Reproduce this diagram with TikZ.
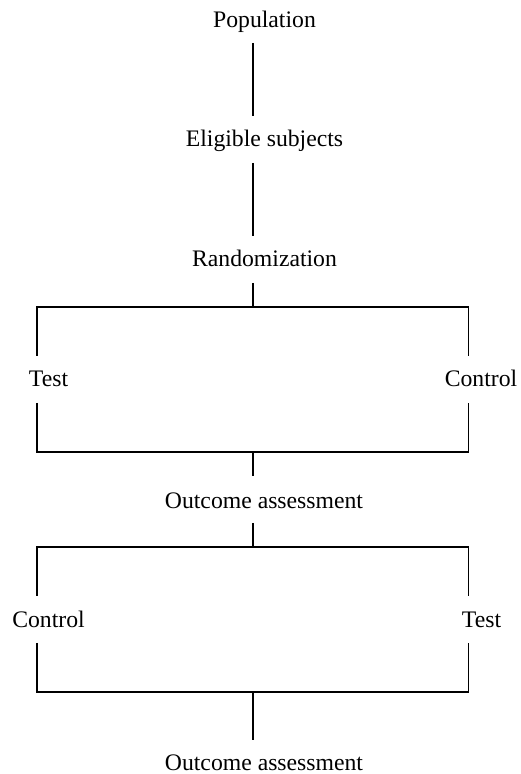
\documentclass[tikz,border=0pt]{standalone}
\usepackage{fontspec}
\setmainfont{Liberation Serif}
\begin{document}
\begin{tikzpicture}[x=1pt,y=1pt,
  lbl/.style={inner sep=0pt,anchor=base,font=\fontsize{23.7}{28}\selectfont},
  ln/.style={line width=1.7pt}]
\useasboundingbox (0,0) rectangle (521,774);
% labels
\node[lbl] (pop)   at (264.5,746) {Population};
\node[lbl] (elig)  at (264.5,627) {Eligible subjects};
\node[lbl] (rand)  at (264.5,507) {Randomization};
\node[lbl] (testA) at (48.5,387) {Test};
\node[lbl] (ctrlA) at (481,387) {Control};
\node[lbl] (out1)  at (264,265) {Outcome assessment};
\node[lbl] (ctrlB) at (48.5,146) {Control};
\node[lbl] (testB) at (481.5,146) {Test};
\node[lbl] (out2)  at (264,3) {Outcome assessment};
% connector end points
\coordinate (p1) at (253,731);  \coordinate (p2) at (253,658);
\coordinate (e1) at (253,611);  \coordinate (e2) at (253,538);
\coordinate (r1) at (253,491);  \coordinate (r2) at (253,467);
\coordinate (lA1) at (37,418);  \coordinate (lA2) at (37,467);
\coordinate (rA1) at (468.5,418); \coordinate (rA2) at (468.5,467);
\coordinate (lA3) at (37,371);  \coordinate (lA4) at (37,322);
\coordinate (rA3) at (468.5,371); \coordinate (rA4) at (468.5,322);
\coordinate (c1) at (253,322);  \coordinate (c2) at (253,298);
\coordinate (o1) at (253,251);  \coordinate (o2) at (253,227);
\coordinate (lB1) at (37,178);  \coordinate (lB2) at (37,227);
\coordinate (rB1) at (468.5,178); \coordinate (rB2) at (468.5,227);
\coordinate (lB3) at (37,131);  \coordinate (lB4) at (37,82);
\coordinate (rB3) at (468.5,131); \coordinate (rB4) at (468.5,82);
\coordinate (d1) at (253,82);   \coordinate (d2) at (253,34);
% connectors
\draw[ln] (p1) -- (p2);
\draw[ln] (e1) -- (e2);
\draw[ln] (r1) -- (r2);
\draw[ln] (lA1) -- (lA2) -- (rA2) -- (rA1);
\draw[ln] (lA3) -- (lA4) -- (rA4) -- (rA3);
\draw[ln] (c1) -- (c2);
\draw[ln] (o1) -- (o2);
\draw[ln] (lB1) -- (lB2) -- (rB2) -- (rB1);
\draw[ln] (lB3) -- (lB4) -- (rB4) -- (rB3);
\draw[ln] (d1) -- (d2);
\end{tikzpicture}
\end{document}
